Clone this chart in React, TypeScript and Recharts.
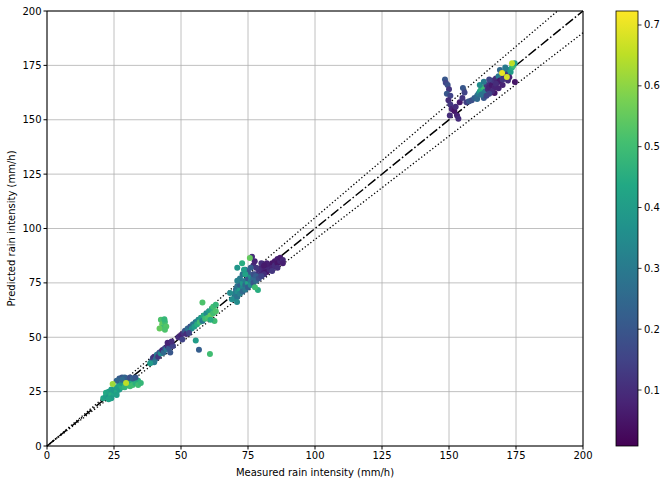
import React from 'react';
import { CartesianGrid, Label, ReferenceLine, Scatter, ScatterChart, XAxis, YAxis } from 'recharts';

// [measured, predicted, colour value]
const clusterLow: [number, number, number][] = [
  [21, 22, 0.42], [22, 23, 0.4], [22, 24.5, 0.44], [23, 22.5, 0.38], [23, 25, 0.42], [24, 23.5, 0.45],
  [24, 26, 0.4], [25, 24, 0.43], [25, 25.5, 0.39], [26, 25, 0.44], [26, 27, 0.41], [27, 26, 0.4],
  [27, 28, 0.42], [28, 27, 0.45], [28, 29, 0.38], [29, 28, 0.43], [29, 27, 0.47], [30, 29, 0.4],
  [30, 28, 0.48], [31, 29.5, 0.42], [31, 27.5, 0.5], [32, 30, 0.44], [32, 28, 0.5], [33, 29, 0.46],
  [34, 30, 0.45], [34, 28, 0.5], [35, 29, 0.48], [26, 23.5, 0.41], [24, 22, 0.4], [23, 21.5, 0.42],
  [27, 31, 0.22], [28, 31.5, 0.2], [29, 31.5, 0.24], [30, 31, 0.22], [31, 31.5, 0.18], [32, 31, 0.23],
  [33, 31.5, 0.2], [28, 30.5, 0.26], [26, 30, 0.24], [24.5, 28.5, 0.62], [29.5, 29, 0.65],
];

const clusterForty: [number, number, number][] = [
  [39, 39, 0.2], [39.5, 40.5, 0.15], [40, 41, 0.1], [40.5, 40, 0.25], [41, 42, 0.3], [41.5, 41, 0.12],
  [42, 43, 0.2], [42.5, 42.5, 0.35], [43, 44, 0.1], [43.5, 43, 0.25], [44, 45, 0.15], [44.5, 44.5, 0.3],
  [45, 46, 0.1], [45.5, 45, 0.2], [46, 47, 0.12], [46, 43, 0.2], [47, 46, 0.15], [40, 38.5, 0.3],
  [38.5, 38, 0.4], [45, 47.5, 0.08], [46.5, 48, 0.1],
  [42.5, 58, 0.52], [43, 56, 0.55], [43.5, 54.5, 0.5], [44, 57, 0.5], [44.5, 55, 0.53], [42, 54, 0.55],
  [44, 53.5, 0.52], [43.8, 58.3, 0.48],
];

const clusterSixty: [number, number, number][] = [
  [49, 50, 0.1], [50, 51, 0.08], [50.5, 49, 0.15], [51, 52, 0.12], [51.5, 53, 0.2], [52, 51.5, 0.1],
  [52.5, 54, 0.25], [53, 53, 0.3], [53.5, 55, 0.2], [54, 54, 0.35], [54.5, 56, 0.28], [55, 55, 0.4],
  [55.5, 57, 0.3], [56, 56, 0.45], [56.5, 58, 0.35], [57, 57, 0.5], [57.5, 59, 0.4], [58, 57.5, 0.3],
  [58.5, 60, 0.45], [59, 58.5, 0.5], [59.5, 61, 0.35], [60, 59, 0.52], [60.5, 62, 0.4], [61, 60, 0.55],
  [61.5, 63, 0.45], [62, 61, 0.5], [62, 64, 0.5], [63, 62, 0.52], [62.5, 57.5, 0.5], [63, 65, 0.48],
  [61, 58, 0.45], [53, 52, 0.15], [58, 66, 0.52], [55.5, 48.5, 0.4], [56.7, 44.2, 0.22], [60.8, 42.3, 0.5],
];

const clusterEighty: [number, number, number][] = [
  [80, 80, 0.08], [81, 81, 0.06], [82, 82, 0.1], [82, 80, 0.05], [83, 83, 0.07], [83, 81, 0.09],
  [84, 84, 0.05], [84, 82, 0.08], [85, 85, 0.06], [85, 83, 0.1], [86, 86, 0.07], [86, 84, 0.05],
  [87, 85, 0.08], [87, 86.5, 0.06], [88, 85.5, 0.09], [88, 84, 0.07], [86, 82, 0.1], [84, 80.5, 0.12],
  [81, 79, 0.1], [80, 82, 0.08], [79, 78, 0.15], [78, 79, 0.12], [79, 81, 0.1], [82, 84, 0.07],
  [77, 83, 0.1], [77.5, 85, 0.08], [76.5, 87, 0.1], [78, 82, 0.12], [80, 84, 0.1], [81, 83, 0.06],
  [70, 70, 0.3], [70.5, 72, 0.25], [71, 71, 0.35], [71, 73.5, 0.28], [72, 72, 0.4], [72, 74, 0.22],
  [73, 73, 0.33], [73, 75, 0.38], [74, 74, 0.25], [74, 76, 0.3], [75, 75, 0.42], [75, 77, 0.2],
  [76, 76, 0.3], [76, 78, 0.35], [77, 77, 0.25], [77, 79, 0.18], [78, 78, 0.22], [70, 68, 0.3],
  [69, 67.5, 0.35], [71, 68.5, 0.28], [72, 70, 0.32], [73, 71, 0.25], [74, 72, 0.3], [75, 73, 0.22],
  [76, 74, 0.35], [77, 75, 0.2], [78, 76, 0.25], [79, 77, 0.18], [80, 78, 0.15],
  [72, 77, 0.3], [73, 79, 0.28], [74, 81, 0.25], [75, 80, 0.2], [76, 82, 0.22], [71, 76, 0.32],
  [72.8, 84, 0.45], [75.7, 86.4, 0.55], [74, 79, 0.42], [78.7, 71.7, 0.45], [77.6, 73, 0.5],
  [70.9, 66.2, 0.35], [68.3, 70.3, 0.35], [73.5, 81, 0.4], [71, 82, 0.38],
];

const clusterHigh: [number, number, number][] = [
  [148.5, 168.5, 0.2], [148.8, 167, 0.15], [149.5, 166, 0.18], [150, 164, 0.12], [149.2, 162, 0.2],
  [150.5, 161, 0.15], [149.8, 159, 0.1], [150.5, 157, 0.12], [151, 155, 0.08], [150.3, 152, 0.1],
  [152, 154, 0.05], [153, 152, 0.08], [153.5, 150.5, 0.1], [152.5, 156, 0.1], [154, 158, 0.06],
  [155.2, 164.6, 0.2], [155.8, 162.5, 0.15], [155, 160, 0.12], [156.5, 158, 0.14], [157.5, 158.5, 0.2],
  [158.5, 159, 0.18], [159.5, 160, 0.22], [160.5, 159.5, 0.25],
  [160.5, 161, 0.25], [161, 162, 0.3], [161.5, 163, 0.4], [162, 164, 0.45], [162.5, 162, 0.35],
  [163, 165, 0.5], [163.5, 163, 0.3], [164, 166, 0.12], [164.5, 164, 0.1], [165, 165, 0.08],
  [165.5, 167, 0.1], [166, 166, 0.06], [166.5, 168, 0.12], [167, 165, 0.08], [167, 162.3, 0.05],
  [167.5, 169, 0.1], [168, 167, 0.08], [168.5, 170, 0.3], [169, 168, 0.06], [170.5, 170, 0.1],
  [171, 172, 0.3], [172, 171, 0.12], [172.5, 173, 0.35], [173, 172, 0.4], [173.5, 174, 0.45],
  [174, 175, 0.5], [174.5, 176, 0.4], [174.6, 167.4, 0.05], [172, 168, 0.1], [170, 166, 0.08],
  [166, 163, 0.1], [163, 160, 0.2], [162, 161.5, 0.28], [165, 162, 0.15], [169, 172.9, 0.25],
  [171, 174, 0.3], [161.5, 166, 0.35], [163, 167.5, 0.3], [165, 168.5, 0.15], [167.5, 166.5, 0.1],
  [168.5, 164.5, 0.08], [170, 168.5, 0.12], [172.5, 169.5, 0.08], [164, 161, 0.15],
  [169.8, 171.5, 0.7], [171.6, 169.7, 0.68], [173.5, 176, 0.65],
];

const axisTicks = [0, 25, 50, 75, 100, 125, 150, 175, 200];
const colourTicks = [0.1, 0.2, 0.3, 0.4, 0.5, 0.6, 0.7];
const colourMin = 0.008;
const colourMax = 0.723;
const bandFactors = [1.05, 0.95];

const viridisStops = [
  '#440154', '#482475', '#414487', '#355f8d', '#2a788e', '#21918c',
  '#22a884', '#44bf70', '#7ad151', '#bddf26', '#fde725',
];

function hexToRgb(h: string) {
  return [1, 3, 5].map((i) => parseInt(h.slice(i, i + 2), 16));
}

function viridis(v: number) {
  const t = Math.max(0, Math.min(1, (v - colourMin) / (colourMax - colourMin)));
  const pos = t * (viridisStops.length - 1);
  const i = Math.min(Math.floor(pos), viridisStops.length - 2);
  const f = pos - i;
  const a = hexToRgb(viridisStops[i]);
  const b = hexToRgb(viridisStops[i + 1]);
  const c = a.map((x, k) => Math.round(x + (b[k] - x) * f));
  return `rgb(${c[0]},${c[1]},${c[2]})`;
}

const points = [...clusterLow, ...clusterForty, ...clusterSixty, ...clusterEighty, ...clusterHigh].map(
  ([x, y, v]) => ({ x, y, v, color: viridis(v) })
);

const W = 668;
const H = 484;
const font = { fontFamily: 'DejaVu Sans', fontSize: 10, fill: '#000' };

// colorbar box
const cbX = 616;
const cbW = 22;
const cbTop = 11;
const cbBottom = 446;

export default function App() {
  const cbY = (v: number) => cbBottom - ((v - colourMin) / (colourMax - colourMin)) * (cbBottom - cbTop);
  return (
    <div style={{ position: 'absolute', left: 0, top: 0, width: W, height: H, background: '#fff' }}>
      <ScatterChart width={W} height={H} margin={{ top: 11, right: 85, bottom: 0, left: 7 }}>
        <CartesianGrid stroke="#b0b0b0" strokeWidth={0.8} />
        <XAxis
          type="number"
          dataKey="x"
          domain={[0, 200]}
          ticks={axisTicks}
          height={38}
          stroke="#000"
          tickSize={3.5}
          tickMargin={2}
          tick={font}
          allowDataOverflow
        >
          <Label value="Measured rain intensity (mm/h)" position="insideBottom" offset={8} style={font} />
        </XAxis>
        <YAxis
          type="number"
          dataKey="y"
          domain={[0, 200]}
          ticks={axisTicks}
          width={40}
          stroke="#000"
          tickSize={3.5}
          tickMargin={2}
          tick={font}
          allowDataOverflow
        >
          <Label
            content={({ viewBox }: any) => {
              const cx = viewBox.x + 4;
              const cy = viewBox.y + viewBox.height / 2;
              return (
                <text
                  x={cx}
                  y={cy}
                  transform={`rotate(-90, ${cx}, ${cy})`}
                  textAnchor="middle"
                  dominantBaseline="central"
                  style={font}
                >
                  Predicted rain intensity (mm/h)
                </text>
              );
            }}
          />
        </YAxis>
        <Scatter
          data={points}
          isAnimationActive={false}
          shape={(p: any) => <circle cx={p.cx} cy={p.cy} r={3} fill={p.payload.color} />}
        />
        <ReferenceLine
          segment={[{ x: 0, y: 0 }, { x: 200, y: 200 }]}
          stroke="#000"
          strokeWidth={1.5}
          strokeDasharray="9.6 2.4 1.5 2.4"
        />
        {bandFactors.map((f) => (
          <ReferenceLine
            key={f}
            segment={[{ x: 0, y: 0 }, { x: Math.min(200, 200 / f), y: Math.min(200, 200 * f) }]}
            stroke="#000"
            strokeWidth={1.3}
            strokeDasharray="1.3 2.2"
          />
        ))}
        <ReferenceLine y={200} stroke="#000" strokeWidth={1} />
        <ReferenceLine x={200} stroke="#000" strokeWidth={1} />
      </ScatterChart>
      <svg width={W} height={H} style={{ position: 'absolute', left: 0, top: 0, pointerEvents: 'none' }}>
        <defs>
          <linearGradient id="viridisGrad" x1="0" y1="1" x2="0" y2="0">
            {viridisStops.map((c, i) => (
              <stop key={i} offset={i / (viridisStops.length - 1)} stopColor={c} />
            ))}
          </linearGradient>
        </defs>
        <rect x={cbX} y={cbTop} width={cbW} height={cbBottom - cbTop} fill="url(#viridisGrad)" stroke="#000" strokeWidth={0.8} />
        {colourTicks.map((t) => (
          <g key={t}>
            <line x1={cbX + cbW} x2={cbX + cbW + 3.5} y1={cbY(t)} y2={cbY(t)} stroke="#000" strokeWidth={0.8} />
            <text x={cbX + cbW + 6} y={cbY(t)} dominantBaseline="central" style={font}>
              {t.toFixed(1)}
            </text>
          </g>
        ))}
      </svg>
    </div>
  );
}
